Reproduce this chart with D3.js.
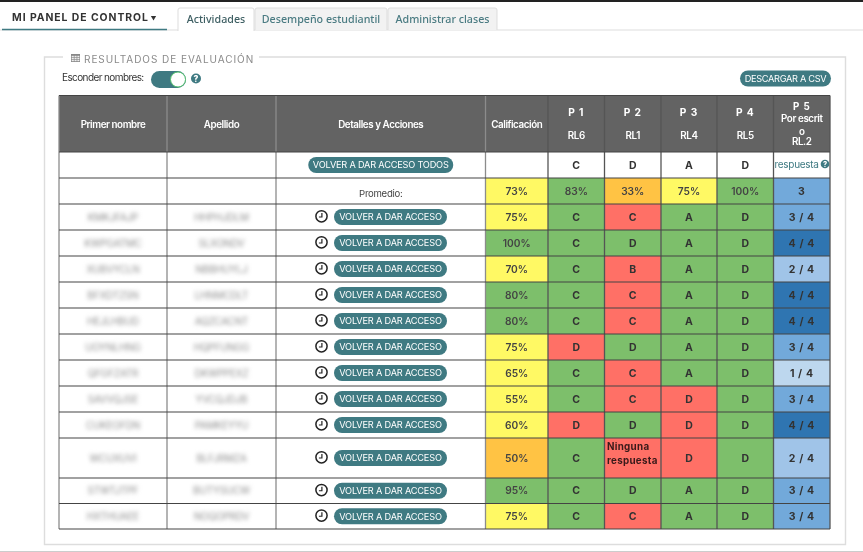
<!DOCTYPE html>
<html><head><meta charset="utf-8">
<script src="https://cdn.jsdelivr.net/npm/d3@7/dist/d3.min.js"></script>
<style>html,body{margin:0;padding:0;background:#fff;overflow:hidden}svg{display:block;filter:blur(.3px)}.blur{filter:blur(2px)}text{font-family:Inter,"Open Sans",sans-serif}</style>
</head><body><svg id="c" width="863" height="552"></svg>
<script>
// ---- data ----
const firstNames=["KMKJFAJP","KWPGATMC","XUBVYCLN","BFXDTZSN","HEJLHBUD","UOYNLHNG","QFGFZATR","SAVVQJSE","CUKEOFDN","WCUXUVI","STWTJTPF","HXTHUAEE"];
const lastNames=["HHPHJDLM","SLXONDV","NBBHUYLJ","LHNMCDLT","AQZCACNT","HQPFUNGG","DKWPPEXZ","YVCQJDJB","PAMKEYYU","BLFJRMZA","BUTYSUCW","NOQOPRDV"];
const grades=[75,100,70,80,80,75,65,55,60,50,95,75];
const q1=["C","C","C","C","C","D","C","C","D","C","C","C"];
const q2=["C","D","B","C","C","D","C","C","D","Ninguna respuesta","D","C"];
const q3=["A","A","A","A","A","A","A","D","D","D","A","A"];
const q4=["D","D","D","D","D","D","D","D","D","D","D","D"];
const q5=[3,4,2,4,4,3,1,3,4,2,3,3];
const answerKey=["C","D","A","D"];
const averages=[73,83,33,75,100];
const q5Average=3;
const headers=["Primer nombre","Apellido","Detalles y Acciones","Calificación"];
const qHeaders=[["P 1","RL6"],["P 2","RL1"],["P 3","RL4"],["P 4","RL5"]];
const q5Header=["P 5","Por escrit","o","RL.2"];
const tabs=["Actividades","Desempeño estudiantil","Administrar clases"];

// ---- layout ----
const colEdges=[59,167,276,485.5,548,604.5,661,717,773.5,830];
const rowEdges=[95.5,152,178,204,230,256,282,308,334,360,386,412,438,478,503.5,529];
const colIdx=d3.range(9), rowIdx=d3.range(15);
const xL=d3.scaleOrdinal(colIdx,colEdges.slice(0,-1)), xR=d3.scaleOrdinal(colIdx,colEdges.slice(1));
const yT=d3.scaleOrdinal(rowIdx,rowEdges.slice(0,-1)), yB=d3.scaleOrdinal(rowIdx,rowEdges.slice(1));
const cx=c=>(xL(c)+xR(c))/2, cy=r=>(yT(r)+yB(r))/2;

// ---- colours ----
const GREEN="#7dbf6b",RED="#ff7066",YEL="#fff964",ORG="#ffc344",TEAL="#3f7a82",HEAD="#636363",INK="#333";
const pct=d3.scaleThreshold().domain([51,80]).range([ORG,YEL,GREEN]);
const blue=d3.scaleOrdinal([1,2,3,4],["#bdd7ee","#a0c4e8","#72a9da","#2f75b1"]);

const svg=d3.select("#c");
// chrome
svg.append("rect").attr("width",863).attr("height",2).attr("fill","#222");
svg.append("line").attr("x1",0).attr("x2",863).attr("y1",30).attr("y2",30).attr("stroke","#ddd");
svg.append("line").attr("x1",2).attr("x2",167).attr("y1",29.5).attr("y2",29.5).attr("stroke",TEAL).attr("stroke-width",1.6);
svg.append("text").text("MI PANEL DE CONTROL").attr("x",12).attr("y",21).attr("font-size",10.4).attr("font-weight",700).attr("letter-spacing",.95).attr("fill","#333");
svg.append("path").attr("d",d3.symbol(d3.symbolTriangle,12)()).attr("transform","translate(153.5,17.5) rotate(180)").attr("fill","#333");
const tabX=[178,255,388,498];
tabs.forEach((t,i)=>{
  const a=i===0;
  svg.append("path").attr("d",`M${tabX[i]},${a?31:30}V10a2,2 0 0 1 2,-2H${tabX[i+1]-3}a2,2 0 0 1 2,2V${a?31:30}`).attr("fill",a?"#fff":"#f2f2f2").attr("stroke","#ddd");
  svg.append("text").text(t).attr("x",(tabX[i]+tabX[i+1]-1)/2).attr("y",23).attr("text-anchor","middle").style("font-family","'Noto Sans'").attr("font-size",10.7).attr("font-weight",500).attr("fill",a?"#3e5f63":"#4a7b82");
});
// panel
svg.append("path").attr("d","M63,57H44.5V544.5H845.5V57H259").attr("fill","none").attr("stroke","#ddd").attr("stroke-width",1.4);
svg.append("line").attr("x1",0).attr("x2",863).attr("y1",551.5).attr("y2",551.5).attr("stroke","#ccc");
// legend title
const ic=svg.append("g").attr("transform","translate(71,54)");
ic.append("rect").attr("width",9).attr("height",8).attr("fill","#888");
d3.range(3).forEach(i=>d3.range(3).forEach(j=>ic.append("rect").attr("x",.7+i*2.8).attr("y",1.8+j*2).attr("width",2.1).attr("height",1.4).attr("fill","#eee")));
svg.append("text").text("RESULTADOS DE EVALUACIÓN").attr("x",84).attr("y",62.5).attr("font-size",10).attr("letter-spacing",.95).attr("fill","#8a8a8a");
svg.append("text").text("Esconder nombres:").attr("x",62).attr("y",81).attr("font-size",10).attr("letter-spacing",-.6).attr("fill","#333");
svg.append("rect").attr("x",151).attr("y",71).attr("width",35).attr("height",17).attr("rx",8.5).attr("fill",TEAL);
svg.append("circle").attr("cx",178).attr("cy",79.5).attr("r",7.5).attr("fill","#fff").attr("stroke","#4fbf6a").attr("stroke-width",1);
function help(x,y,r){
  svg.append("circle").attr("cx",x).attr("cy",y).attr("r",r).attr("fill",TEAL);
  svg.append("text").text("?").attr("x",x).attr("y",y+r*.62).attr("text-anchor","middle").attr("font-size",r*1.7).attr("font-weight",800).attr("fill","#fff");
}
help(196,78.5,5);
function pill(cxv,cyv,w,h,t,fs,ls){
  svg.append("rect").attr("x",cxv-w/2).attr("y",cyv-h/2).attr("width",w).attr("height",h).attr("rx",h/2).attr("fill",TEAL);
  svg.append("text").text(t).attr("x",cxv).attr("y",cyv+fs*.36).attr("text-anchor","middle").attr("font-size",fs).attr("letter-spacing",ls).attr("fill","#fff");
}
pill(785.5,78.5,91,16,"DESCARGAR A CSV",9.2,-.3);

// table cells
const cells=[];
const add=(c,r,fill,label,o={})=>cells.push({c,r,fill,label,...o});
colIdx.forEach(c=>add(c,0,HEAD));
colIdx.forEach(c=>{add(c,1,"#fff");add(c,2,"#fff")});
[0,1,2,3,4].forEach(i=>add(3+i,2,pct(averages[i]),averages[i]+"%",{kind:"pct"}));
add(8,2,blue(q5Average),String(q5Average),{kind:"bold"});
answerKey.forEach((k,i)=>add(4+i,1,"#fff",k,{kind:"key"}));
const qs=[q1,q2,q3,q4];
grades.forEach((g,i)=>{
  const r=i+3;
  colIdx.slice(0,3).forEach(c=>add(c,r,"#fff"));
  add(3,r,pct(g),g+"%",{kind:"pct"});
  qs.forEach((q,j)=>add(4+j,r,q[i]===answerKey[j]?GREEN:RED,q[i],{kind:"bold"}));
  add(8,r,blue(q5[i]),q5[i]+" / 4",{kind:"bold"});
});
svg.append("g").selectAll("rect").data(cells).join("rect")
 .attr("x",d=>xL(d.c)).attr("y",d=>yT(d.r)).attr("width",d=>xR(d.c)-xL(d.c)).attr("height",d=>yB(d.r)-yT(d.r)).attr("fill",d=>d.fill);
// grid lines
const g=svg.append("g");
g.selectAll(".v").data(colEdges).join("line").attr("x1",d=>d).attr("x2",d=>d).attr("y1",rowEdges[0]).attr("y2",rowEdges[15])
 .attr("stroke",(d,i)=>i>=4?"#555":"#8c8c8c").attr("stroke-width",1.3);
g.selectAll(".h").data(rowEdges).join("line").attr("x1",colEdges[0]).attr("x2",colEdges[9]).attr("y1",d=>d).attr("y2",d=>d)
 .attr("stroke","#444").attr("stroke-width",1.1);

// cell labels
const T=svg.append("g");
cells.filter(d=>d.label).forEach(d=>{
  if(d.label==="Ninguna respuesta"){
    [["Ninguna",-8],["respuesta",6]].forEach(([t,dy])=>T.append("text").text(t).attr("x",xL(d.c)+2.5).attr("y",cy(d.r)+dy).attr("font-size",9.8).attr("font-weight",700).attr("letter-spacing",.3).attr("fill","#3a1a1a"));
    return;
  }
  T.append("text").text(d.label).attr("x",cx(d.c)).attr("y",cy(d.r)+3.7).attr("text-anchor","middle")
   .attr("font-size",d.kind==="pct"?10.2:10.5).attr("font-weight",d.kind==="pct"?600:700).attr("letter-spacing",d.kind==="bold"&&d.c===8?.6:0)
   .attr("fill",d.kind==="pct"?"#444":INK);
});
// headers
headers.forEach((h,i)=>T.append("text").text(h).attr("x",cx(i)).attr("y",127.5).attr("text-anchor","middle").attr("font-size",9.8).attr("font-weight",600).attr("letter-spacing",-.42).attr("fill","#fff"));
qHeaders.forEach((h,i)=>{
  T.append("text").text(h[0]).attr("x",cx(4+i)).attr("y",116).attr("text-anchor","middle").attr("font-size",10.2).attr("font-weight",700).attr("letter-spacing",.9).attr("fill","#fff");
  T.append("text").text(h[1]).attr("x",cx(4+i)).attr("y",139).attr("text-anchor","middle").attr("font-size",9.8).attr("font-weight",600).attr("letter-spacing",-.4).attr("fill","#fff");
});
[110,122,134.5,145].forEach((y,i)=>T.append("text").text(q5Header[i]).attr("x",cx(8)).attr("y",y).attr("text-anchor","middle").attr("font-size",9.8).attr("font-weight",i==0?700:600).attr("letter-spacing",i==0?.9:-.4).attr("fill","#fff"));
T.append("text").text("respuesta").attr("x",774.5).attr("y",168).attr("font-size",10).attr("letter-spacing",-.3).attr("fill",TEAL);
help(825,164,4.3);
// row-level items
pill(cx(2),165,145,16,"VOLVER A DAR ACCESO TODOS",9.2,-.2);
T.append("text").text("Promedio:").attr("x",cx(2)).attr("y",197).attr("text-anchor","middle").attr("font-size",9.6).attr("letter-spacing",-.3).attr("fill","#444");
grades.forEach((_,i)=>{
  const r=i+3, y=cy(r);
  [[cx(0),firstNames[i]],[cx(1),lastNames[i]]].forEach(([x,t])=>T.append("text").attr("class","blur").text(t).attr("x",x).attr("y",y+3.5).attr("text-anchor","middle").attr("font-size",10).attr("letter-spacing",-.2).attr("fill","#8f8f8f"));
  const ck=svg.append("g").attr("transform",`translate(321.5,${y-.7})`);
  ck.append("circle").attr("r",5.6).attr("fill","#fff").attr("stroke","#222").attr("stroke-width",1.5);
  ck.append("path").attr("d","M.4,-3.2V.7H-2.6").attr("fill","none").attr("stroke","#222").attr("stroke-width",1.2);
  pill(390.5,y,113,16,"VOLVER A DAR ACCESO",9.2,-.18);
});
</script></body></html>
